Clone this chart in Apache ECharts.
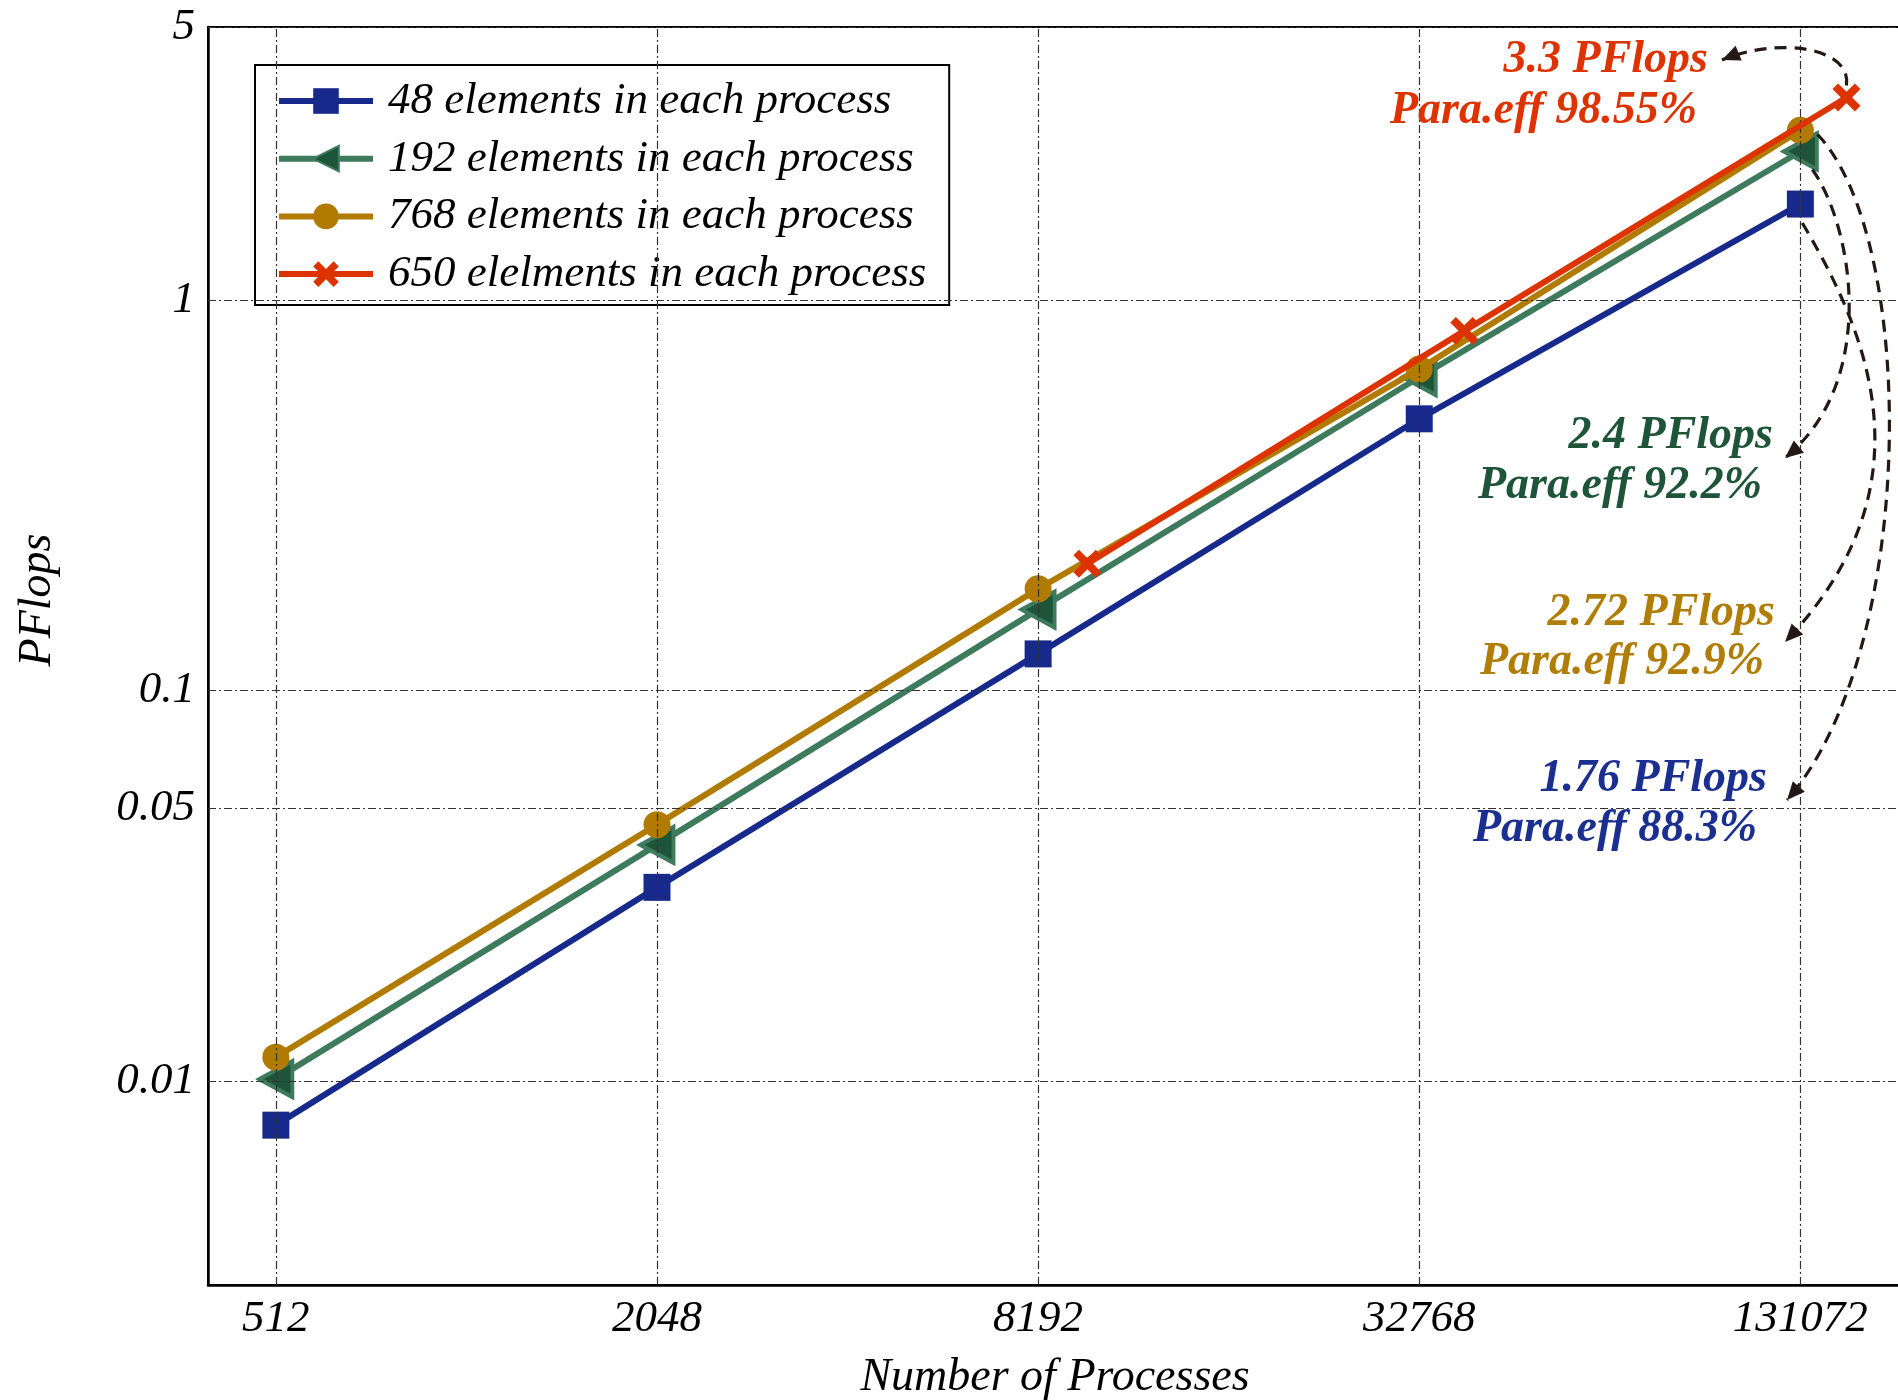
<!DOCTYPE html>
<html>
<head>
<meta charset="utf-8">
<script src="https://cdn.jsdelivr.net/npm/echarts@6.0.0/dist/echarts.min.js"></script>
<style>html,body{margin:0;padding:0;background:#fff}#chart{width:1898px;height:1400px}</style>
</head>
<body>
<div id="chart"></div>
<script>
// ---- data ----
const processes = [512, 2048, 8192, 32768, 131072];
const processes650 = [9800, 38600, 155000];
const pflops48 = [0.0077, 0.0313, 0.124, 0.496, 1.76];
const pflops192 = [0.0101, 0.0402, 0.161, 0.634, 2.4];
const pflops768 = [0.0115, 0.0453, 0.182, 0.665, 2.72];
const pflops650 = [0.211, 0.833, 3.3];
const seriesNames = ['48 elements in each process', '192 elements in each process', '768 elements in each process', '650 elelments in each process'];
const xTickValues = [512, 2048, 8192, 32768, 131072];
const yTickValues = [0.01, 0.05, 0.1, 1, 5];
const annRed = ['3.3 PFlops', 'Para.eff 98.55%'];
const annGreen = ['2.4 PFlops', 'Para.eff 92.2%'];
const annGold = ['2.72 PFlops', 'Para.eff 92.9%'];
const annBlue = ['1.76 PFlops', 'Para.eff 88.3%'];

const FONT = 'Liberation Serif';
const C_BLUE = '#172a8c', C_GREEN = '#3e7a5c', C_GREEN_D = '#1e5538', C_GOLD = '#b07b00', C_RED = '#dc3300';
const zip = (xs, ys) => xs.map((x, i) => [x, ys[i]]);
const X_PATH = 'path://M0,4 L4,0 L10,6 L16,0 L20,4 L14,10 L20,16 L16,20 L10,14 L4,20 L0,16 L6,10 Z';

const chart = echarts.init(document.getElementById('chart'), null, {renderer: 'canvas'});

const gridLineStyle = {color: '#333', width: 1.2, type: [8, 3, 2, 3]};
const labelBase = {fontFamily: FONT, fontStyle: 'italic', fontSize: 45, color: '#000'};

const option = {
  animation: false,
  backgroundColor: '#fff',
  grid: {left: 208, right: -4, top: 27, bottom: 115, show: true, borderColor: '#000', borderWidth: 2,
         outerBoundsMode: 'none', containLabel: false},
  xAxis: {
    type: 'log', logBase: 2, min: 400, max: 189700,
    axisLine: {show: true, lineStyle: {color: '#000', width: 2.5}},
    axisTick: {show: false}, axisLabel: {show: false}, splitLine: {show: false}, minorTick: {show: false},
    name: 'Number of Processes', nameLocation: 'middle', nameGap: 70,
    nameTextStyle: {fontFamily: FONT, fontStyle: 'italic', fontSize: 46, color: '#000'}
  },
  yAxis: {
    type: 'log', logBase: 10, min: 0.003, max: 5,
    axisLine: {show: true, lineStyle: {color: '#000', width: 2.5}},
    axisTick: {show: false}, axisLabel: {show: false}, splitLine: {show: false}, minorTick: {show: false}
  },
  legend: {
    orient: 'vertical', left: 255, top: 65,
    data: seriesNames,
    selectedMode: false,
    backgroundColor: '#fff', borderColor: '#000', borderWidth: 2,
    padding: [12, 23, 7, 21],
    itemWidth: 94, itemHeight: 32, itemGap: 9.7,
    lineStyle: {width: 6},
    textStyle: {fontFamily: FONT, fontStyle: 'italic', fontSize: 45, color: '#000', lineHeight: 48, padding: [0, 0, 0, 10]}
  },
  series: [
    {
      type: 'line', name: '__grid', data: [], silent: true, z: 1,
      markLine: {
        silent: true, symbol: ['none', 'none'], animation: false,
        lineStyle: gridLineStyle,
        emphasis: {disabled: true},
        data: [
          ...xTickValues.map(v => ({xAxis: v, label: Object.assign({show: true, position: 'start', distance: 12, formatter: p => String(p.value)}, labelBase)})),
          ...yTickValues.map(v => ({yAxis: v, label: Object.assign({show: true, position: 'start', distance: 13, formatter: p => String(p.value)}, labelBase)}))
        ]
      }
    },
    {
      type: 'line', name: seriesNames[0], data: zip(processes, pflops48), z: 2,
      symbol: 'rect', symbolSize: 27,
      itemStyle: {color: C_BLUE}, lineStyle: {color: C_BLUE, width: 6}
    },
    {
      type: 'line', name: seriesNames[1], data: zip(processes, pflops192), z: 3,
      symbol: 'triangle', symbolRotate: 90, symbolSize: [36, 33],
      itemStyle: {color: C_GREEN_D, borderColor: C_GREEN, borderWidth: 4}, lineStyle: {color: C_GREEN, width: 6}
    },
    {
      type: 'line', name: seriesNames[2], data: zip(processes, pflops768), z: 4,
      symbol: 'circle', symbolSize: 27,
      itemStyle: {color: C_GOLD}, lineStyle: {color: C_GOLD, width: 6}
    },
    {
      type: 'line', name: seriesNames[3], data: zip(processes650, pflops650), z: 5,
      symbol: X_PATH, symbolSize: 28,
      itemStyle: {color: C_RED}, lineStyle: {color: C_RED, width: 6}
    }
  ]
};
chart.setOption(option);

// ---- annotations (anchor points derived from the data through the chart scales) ----
const last = a => a[a.length - 1];
const px = (si, pt) => chart.convertToPixel({seriesIndex: si}, pt);
const pBlue = px(1, [last(processes), last(pflops48)]);
const pGreen = px(2, [last(processes), last(pflops192)]);
const pGold = px(3, [last(processes), last(pflops768)]);
const pRed = px(4, [last(processes650), last(pflops650)]);

const curves = [
  {s: [pRed[0], pRed[1] - 12], c1: [1852, 48], c2: [1780, 36], e: [1722, 60]},
  {s: [pGreen[0] + 12, pGreen[1] + 18], c1: [1852, 225], c2: [1880, 380], e: [1785, 458]},
  {s: [pBlue[0] + 2, pBlue[1] + 19], c1: [1872, 340], c2: [1930, 490], e: [1785, 642]},
  {s: [pGold[0] + 17, pGold[1] + 4], c1: [1918, 240], c2: [1918, 650], e: [1787, 800]}
];
const graphics = [];
curves.forEach(c => {
  graphics.push({
    type: 'bezierCurve', z: 100, silent: true,
    shape: {x1: c.s[0], y1: c.s[1], cpx1: c.c1[0], cpy1: c.c1[1], cpx2: c.c2[0], cpy2: c.c2[1], x2: c.e[0], y2: c.e[1]},
    style: {stroke: '#231815', lineWidth: 3.2, lineDash: [12, 8], fill: null}
  });
  let dx = c.e[0] - c.c2[0], dy = c.e[1] - c.c2[1];
  const len = Math.hypot(dx, dy); dx /= len; dy /= len;
  const L = 18, W = 8;
  const bx = c.e[0] - dx * L, by = c.e[1] - dy * L;
  graphics.push({
    type: 'polygon', z: 101, silent: true,
    shape: {points: [[c.e[0], c.e[1]], [bx - dy * W, by + dx * W], [bx + dy * W, by - dx * W]]},
    style: {fill: '#231815'}
  });
});
const annText = (txt, x, y, color) => ({
  type: 'text', z: 102, silent: true, x: x, y: y,
  style: {text: txt, fill: color, align: 'right', verticalAlign: 'middle',
          fontFamily: FONT, fontStyle: 'italic', fontWeight: 'bold', fontSize: 46}
});
graphics.push(annText(annRed[0], 1708, 60, C_RED), annText(annRed[1], 1697, 111, C_RED));
graphics.push(annText(annGreen[0], 1773, 436, C_GREEN_D), annText(annGreen[1], 1762, 486, C_GREEN_D));
graphics.push(annText(annGold[0], 1775, 613, '#b07d06'), annText(annGold[1], 1764, 662, '#b07d06'));
graphics.push(annText(annBlue[0], 1767, 779, '#1a2f8f'), annText(annBlue[1], 1757, 829, '#1a2f8f'));
// y-axis title
graphics.push({
  type: 'text', z: 102, silent: true, x: 38, y: 600, rotation: Math.PI / 2,
  style: {text: 'PFlops', fill: '#000', align: 'center', verticalAlign: 'middle',
          fontFamily: FONT, fontStyle: 'italic', fontSize: 46}
});
chart.setOption({graphic: graphics});
</script>
</body>
</html>
